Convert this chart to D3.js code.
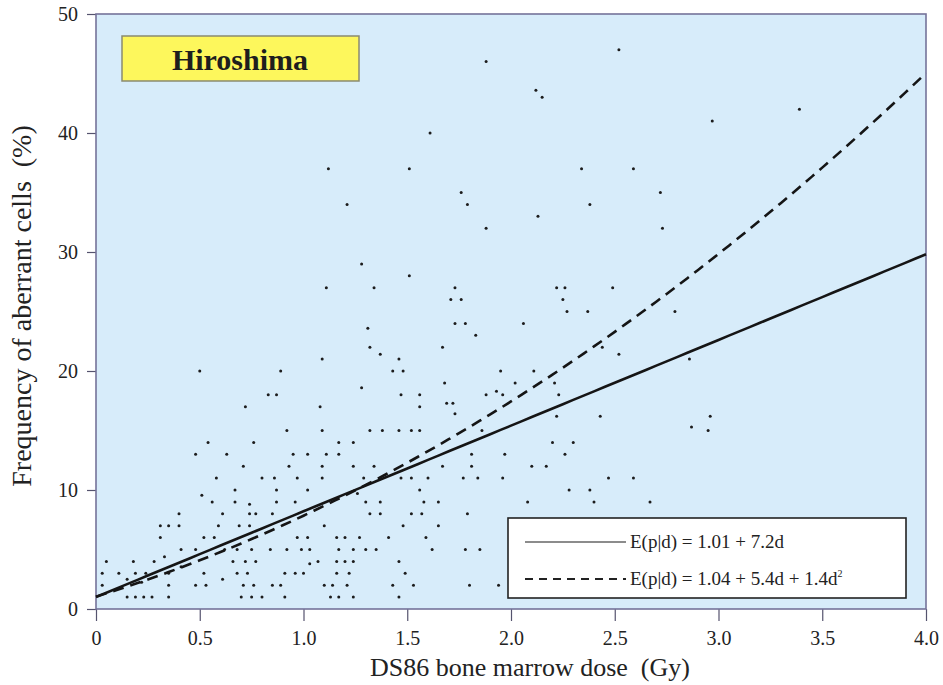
<!DOCTYPE html>
<html>
<head>
<meta charset="utf-8">
<script src="https://cdn.jsdelivr.net/npm/d3@7"></script>
<style>
  body { margin: 0; background: #fff; }
  svg { display: block; font-family: "Liberation Serif", "DejaVu Serif", serif; }
  text { white-space: pre; }
</style>
</head>
<body>
<svg id="chart"></svg>
<script>
// Frequency levels (%) and the doses (Gy) observed at each level
const freqRows = [1, 2, 2.25, 2.5, 3, 3.55, 3.8, 4, 4.4, 5, 6, 7, 8, 8.8, 9, 9.55, 9.7, 10,
  11, 12, 13, 14, 15, 15.3, 16.2, 16.4, 17, 17.3, 18, 18.3, 18.6, 19, 20, 21, 21.4, 22, 23,
  23.6, 24, 25, 26, 27, 28, 29, 32, 33, 34, 35, 37, 40, 41, 42, 43, 43.6, 46, 47];

const doseRows = [
  [0.15, 0.19, 0.23, 0.27, 0.35, 0.70, 0.75, 0.80, 0.91, 1.13, 1.17, 1.24, 1.46],
  [0.03, 0.35, 0.48, 0.53, 0.71, 0.76, 0.85, 0.89, 1.10, 1.14, 1.21, 1.43, 1.53, 1.80, 1.94],
  [0.22],
  [0.15, 0.61],
  [0.03, 0.11, 0.19, 0.24, 0.35, 0.52, 0.68, 0.73, 0.91, 0.96, 1.00, 1.16, 1.22, 1.49],
  [0.41],
  [1.03],
  [0.05, 0.18, 0.28, 0.66, 0.72, 0.77, 1.07, 1.16, 1.20, 1.24, 1.46],
  [0.33],
  [0.41, 0.48, 0.62, 0.68, 0.75, 0.84, 0.92, 0.99, 1.03, 1.17, 1.24, 1.30, 1.35, 1.62, 1.78, 1.85],
  [0.31, 0.52, 0.57, 0.97, 1.02, 1.16, 1.20, 1.27, 1.41, 1.59],
  [0.31, 0.35, 0.40, 0.59, 0.69, 0.74, 1.10, 1.48, 1.65],
  [0.40, 0.61, 0.74, 0.77, 0.85, 1.32, 1.37, 1.52, 1.57, 1.79],
  [0.74],
  [0.56, 0.67, 0.87, 0.96, 1.30, 1.37, 1.58, 1.65, 2.08, 2.40, 2.67],
  [0.51],
  [1.26],
  [0.67, 0.87, 1.02, 1.56, 2.28, 2.38],
  [0.58, 0.80, 0.86, 0.97, 1.09, 1.29, 1.47, 1.52, 1.60, 1.77, 1.84, 1.96, 2.47, 2.59],
  [0.71, 0.93, 1.09, 1.24, 1.34, 1.67, 1.81, 2.10, 2.17],
  [0.48, 0.63, 0.95, 1.02, 1.11, 1.17, 1.81, 1.97, 2.26],
  [0.54, 0.76, 1.17, 1.24, 2.20, 2.30],
  [0.92, 1.09, 1.32, 1.38, 1.46, 1.52, 1.56, 1.86, 2.95],
  [2.87],
  [2.22, 2.43, 2.96],
  [1.73],
  [0.72, 1.08, 1.56],
  [1.69, 1.72],
  [0.83, 0.87, 1.47, 1.56, 1.88, 1.96, 2.23],
  [1.93],
  [1.28],
  [1.68, 2.02, 2.21],
  [0.50, 0.89, 1.43, 1.48, 1.95, 2.11],
  [1.09, 1.46, 2.86],
  [1.37, 2.52],
  [1.32, 1.67, 2.44],
  [1.83],
  [1.31],
  [1.73, 1.78, 2.06],
  [2.27, 2.37, 2.79],
  [1.71, 1.76, 2.25],
  [1.11, 1.34, 1.73, 2.22, 2.26, 2.49],
  [1.51],
  [1.28],
  [1.88, 2.73],
  [2.13],
  [1.21, 1.79, 2.38],
  [1.76, 2.72],
  [1.12, 1.51, 2.34, 2.59],
  [1.61],
  [2.97],
  [3.39],
  [2.15],
  [2.12],
  [1.88],
  [2.52]
];

// Fitted models: E(p|d)
const linearFit = [1.01, 7.2];
const quadraticFit = [1.04, 5.4, 1.4];

const xTicks = [0, 0.5, 1.0, 1.5, 2.0, 2.5, 3.0, 3.5, 4.0];
const xTickLabels = ['0', '0.5', '1.0', '1.5', '2.0', '2.5', '3.0', '3.5', '4.0'];
const yTicks = [0, 10, 20, 30, 40, 50];

const width = 943, height = 685;
const marginTop = 14, marginRight = 17, marginBottom = 76, marginLeft = 96;

const points = freqRows.flatMap((f, i) => doseRows[i].map(d => ({ d, f })));

const x = d3.scaleLinear([0, 4], [marginLeft, width - marginRight]);
const y = d3.scaleLinear([0, 50], [height - marginBottom, marginTop]);

const svg = d3.select('#chart')
  .attr('width', width)
  .attr('height', height)
  .attr('viewBox', [0, 0, width, height]);

// Plot background
svg.append('rect')
  .attr('x', x(0))
  .attr('y', y(50))
  .attr('width', x(4) - x(0))
  .attr('height', y(0) - y(50))
  .attr('fill', '#d7ecfa');

// Y axis
svg.append('g')
  .attr('transform', `translate(${marginLeft},0)`)
  .call(d3.axisLeft(y).tickValues(yTicks).tickSize(9).tickPadding(9).tickFormat(d => d))
  .call(g => g.select('.domain').remove())
  .call(g => g.selectAll('.tick line').attr('stroke', '#55536e').attr('stroke-width', 1.2))
  .call(g => g.selectAll('.tick text')
    .attr('font-family', '"Liberation Serif", serif')
    .attr('font-size', 20)
    .attr('fill', '#222'));

// X axis
svg.append('g')
  .attr('transform', `translate(0,${height - marginBottom})`)
  .call(d3.axisBottom(x).tickValues(xTicks).tickSize(12).tickPadding(10)
    .tickFormat((d, i) => xTickLabels[i]))
  .call(g => g.select('.domain').remove())
  .call(g => g.selectAll('.tick line').attr('stroke', '#55536e').attr('stroke-width', 1.2))
  .call(g => g.selectAll('.tick text')
    .attr('font-family', '"Liberation Serif", serif')
    .attr('font-size', 20)
    .attr('fill', '#222'));

// Frame
svg.append('rect')
  .attr('x', x(0))
  .attr('y', y(50))
  .attr('width', x(4) - x(0))
  .attr('height', y(0) - y(50))
  .attr('fill', 'none')
  .attr('stroke', '#75739a')
  .attr('stroke-width', 1.6);

// Scatter points
svg.append('g')
  .selectAll('circle')
  .data(points)
  .join('circle')
  .attr('cx', p => x(p.d))
  .attr('cy', p => y(p.f))
  .attr('r', 1.5)
  .attr('fill', '#1c1c1c');

// Fit lines
const doseGrid = d3.range(0, 4.0001, 0.05);
const linear = d => linearFit[0] + linearFit[1] * d;
const quadratic = d => quadraticFit[0] + quadraticFit[1] * d + quadraticFit[2] * d * d;

svg.append('path')
  .datum(doseGrid)
  .attr('fill', 'none')
  .attr('stroke', '#151515')
  .attr('stroke-width', 2.6)
  .attr('d', d3.line(d => x(d), d => y(linear(d))));

svg.append('path')
  .datum(doseGrid)
  .attr('fill', 'none')
  .attr('stroke', '#151515')
  .attr('stroke-width', 2.6)
  .attr('stroke-dasharray', '11,7')
  .attr('d', d3.line(d => x(d), d => y(quadratic(d))));

// Hiroshima label
const label = svg.append('g');
label.append('rect')
  .attr('x', 122).attr('y', 36)
  .attr('width', 237).attr('height', 45)
  .attr('fill', '#fdf75c')
  .attr('stroke', '#8a8a70')
  .attr('stroke-width', 1.5);
label.append('text')
  .attr('x', 240).attr('y', 70)
  .attr('text-anchor', 'middle')
  .attr('font-size', 30)
  .attr('font-weight', 'bold')
  .attr('fill', '#1e1e1e')
  .text('Hiroshima');

// Legend
const legend = svg.append('g');
legend.append('rect')
  .attr('x', 508).attr('y', 518)
  .attr('width', 398).attr('height', 80)
  .attr('fill', '#fff')
  .attr('stroke', '#222')
  .attr('stroke-width', 1.6);
legend.append('line')
  .attr('x1', 525).attr('x2', 626).attr('y1', 542).attr('y2', 542)
  .attr('stroke', '#666').attr('stroke-width', 1.6);
legend.append('line')
  .attr('x1', 525).attr('x2', 626).attr('y1', 579).attr('y2', 579)
  .attr('stroke', '#222').attr('stroke-width', 2)
  .attr('stroke-dasharray', '8,6');
legend.append('text')
  .attr('x', 630).attr('y', 548)
  .attr('font-size', 19)
  .attr('fill', '#222')
  .text('E(p|d) = 1.01 + 7.2d');
const eq2 = legend.append('text')
  .attr('x', 630).attr('y', 585)
  .attr('font-size', 19)
  .attr('fill', '#222')
  .text('E(p|d) = 1.04 + 5.4d + 1.4d');
eq2.append('tspan')
  .attr('dy', -8)
  .attr('font-size', 10)
  .text('2');

// Axis titles
svg.append('text')
  .attr('x', 530)
  .attr('y', 676)
  .attr('text-anchor', 'middle')
  .attr('font-size', 26)
  .attr('fill', '#222')
  .text('DS86 bone marrow dose  (Gy)');

svg.append('text')
  .attr('transform', `translate(31,306) rotate(-90)`)
  .attr('text-anchor', 'middle')
  .attr('font-size', 28)
  .attr('fill', '#222')
  .text('Frequency of aberrant cells  (%)');
</script>
</body>
</html>
